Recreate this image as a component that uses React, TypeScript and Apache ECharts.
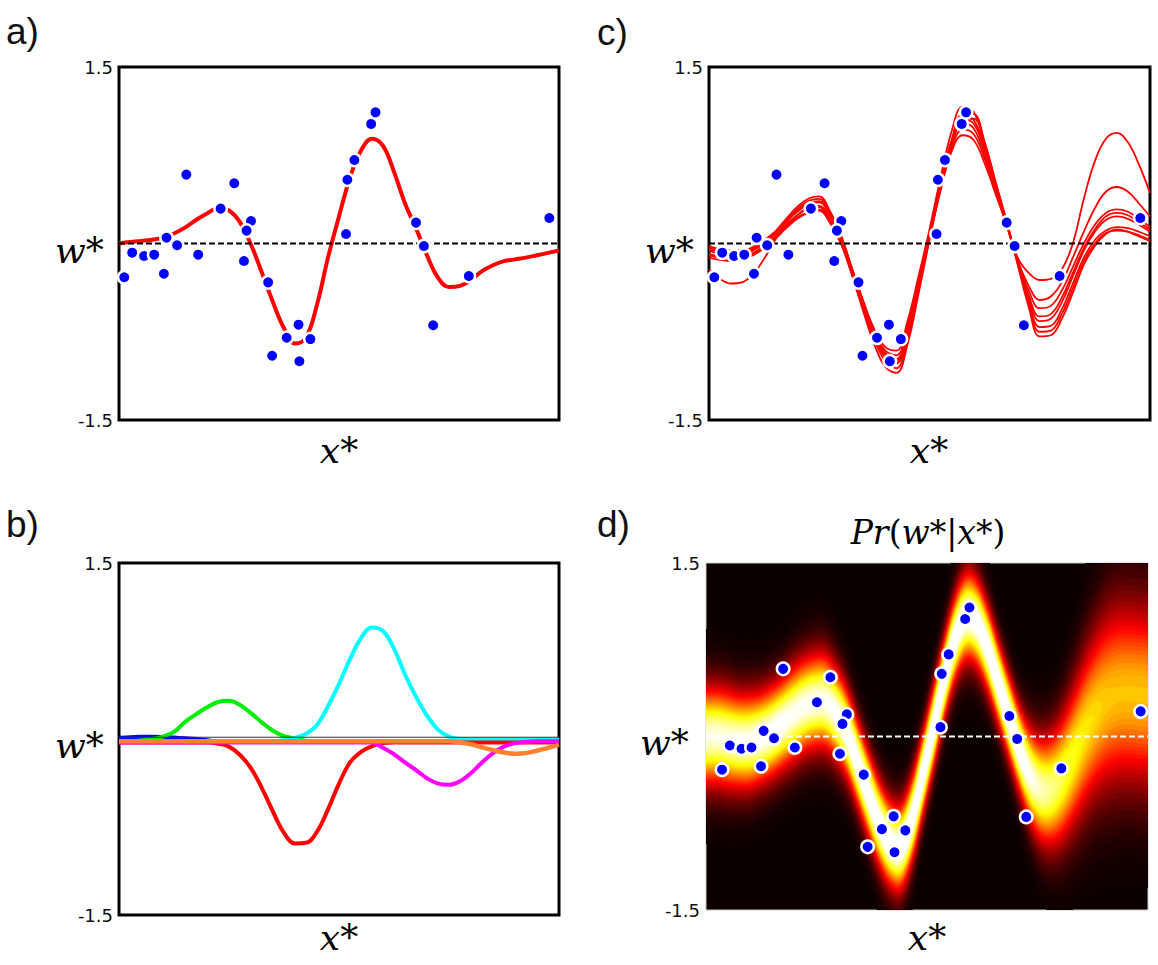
import React, { useEffect, useRef } from "react";
import * as echarts from "echarts";

// ---------- shared x grid (normalised x*) ----------
const xGrid = [0, 0.025, 0.05, 0.075, 0.1, 0.125, 0.15, 0.175, 0.2, 0.225, 0.25, 0.275, 0.3, 0.325, 0.35, 0.375, 0.4, 0.425, 0.45, 0.475, 0.5, 0.525, 0.55, 0.575, 0.6, 0.625, 0.65, 0.675, 0.7, 0.725, 0.75, 0.775, 0.8, 0.825, 0.85, 0.875, 0.9, 0.925, 0.95, 0.975, 1];

// ---------- observed data points ----------
const ptsX = [0.012, 0.030, 0.057, 0.080, 0.102, 0.108, 0.132, 0.153, 0.180, 0.231, 0.262, 0.300, 0.290, 0.284, 0.339, 0.348, 0.381, 0.408, 0.410, 0.435, 0.516, 0.519, 0.535, 0.573, 0.583, 0.675, 0.693, 0.714, 0.795, 0.978];
const ptsY = [-0.287, -0.078, -0.106, -0.095, -0.257, 0.049, -0.015, 0.585, -0.095, 0.296, 0.512, 0.191, 0.109, -0.149, -0.330, -0.954, -0.801, -0.690, -1.001, -0.812, 0.081, 0.542, 0.710, 1.016, 1.115, 0.177, -0.021, -0.695, -0.276, 0.217];

// ---------- panel a: fitted function ----------
const fitA = [0.0, 0.012, 0.022, 0.032, 0.05, 0.085, 0.135, 0.20, 0.255, 0.30, 0.28, 0.18, -0.01, -0.25, -0.50, -0.72, -0.85, -0.80, -0.52, -0.12, 0.23, 0.56, 0.79, 0.89, 0.83, 0.61, 0.34, 0.13, -0.10, -0.29, -0.37, -0.36, -0.31, -0.235, -0.185, -0.15, -0.135, -0.12, -0.10, -0.08, -0.06];

// ---------- panel b: weighted basis functions ----------
const basisBlue = [0.01, 0.015, 0.02, 0.02, 0.018, 0.012, 0.006, 0.0, -0.01, -0.02, -0.02, -0.02, -0.02, -0.02, -0.02, -0.02, -0.02, -0.02, -0.02, -0.02, -0.02, -0.02, -0.02, -0.02, -0.02, -0.02, -0.02, -0.02, -0.02, -0.02, -0.02, -0.02, -0.02, -0.02, -0.02, -0.02, -0.02, -0.02, -0.02, -0.02, -0.02];
const basisGreen = [-0.02, -0.02, -0.015, 0.0, 0.02, 0.06, 0.145, 0.21, 0.27, 0.315, 0.325, 0.29, 0.22, 0.14, 0.07, 0.025, 0.005, -0.015, -0.02, -0.02, -0.02, -0.02, -0.02, -0.02, -0.02, -0.02, -0.02, -0.02, -0.02, -0.02, -0.02, -0.02, -0.02, -0.02, -0.02, -0.02, -0.02, -0.02, -0.02, -0.02, -0.02];
const basisRed = [-0.03, -0.03, -0.03, -0.03, -0.03, -0.03, -0.03, -0.03, -0.03, -0.04, -0.065, -0.136, -0.25, -0.42, -0.62, -0.80, -0.89, -0.885, -0.79, -0.60, -0.38, -0.20, -0.11, -0.06, -0.035, -0.03, -0.03, -0.03, -0.03, -0.03, -0.03, -0.03, -0.03, -0.03, -0.03, -0.03, -0.03, -0.03, -0.03, -0.03, -0.03];
const basisCyan = [-0.02, -0.02, -0.02, -0.02, -0.02, -0.02, -0.02, -0.02, -0.02, -0.02, -0.02, -0.02, -0.02, -0.02, -0.02, -0.01, 0.01, 0.045, 0.12, 0.28, 0.47, 0.68, 0.86, 0.95, 0.92, 0.77, 0.55, 0.36, 0.2, 0.08, 0.02, 0.0, -0.005, -0.005, -0.005, -0.005, -0.005, -0.005, -0.005, -0.005, -0.005];
const basisMagenta = [-0.03, -0.03, -0.03, -0.03, -0.03, -0.03, -0.03, -0.03, -0.03, -0.03, -0.03, -0.03, -0.03, -0.03, -0.03, -0.03, -0.03, -0.03, -0.03, -0.03, -0.03, -0.03, -0.03, -0.03, -0.075, -0.13, -0.20, -0.265, -0.335, -0.38, -0.39, -0.36, -0.29, -0.20, -0.12, -0.065, -0.035, -0.025, -0.02, -0.02, -0.02];
const basisOrange = [-0.02, -0.02, -0.02, -0.02, -0.02, -0.02, -0.02, -0.02, -0.02, -0.02, -0.02, -0.02, -0.02, -0.02, -0.02, -0.02, -0.02, -0.02, -0.02, -0.02, -0.02, -0.02, -0.02, -0.02, -0.02, -0.02, -0.02, -0.02, -0.02, -0.02, -0.02, -0.03, -0.045, -0.07, -0.095, -0.115, -0.125, -0.12, -0.10, -0.075, -0.05];

// ---------- panel c: posterior samples ----------
const sampleC1 = [-0.05, -0.07, -0.08, -0.08, -0.05, 0.01, 0.09, 0.19, 0.28, 0.34, 0.36, 0.24, 0.04, -0.24, -0.53, -0.79, -0.95, -0.99, -0.74, -0.33, 0.08, 0.52, 0.88, 1.08, 1.05, 0.82, 0.50, 0.18, -0.12, -0.25, -0.31, -0.30, -0.22, 0.0, 0.38, 0.70, 0.89, 0.94, 0.86, 0.67, 0.43];
const sampleC2 = [-0.09, -0.11, -0.12, -0.12, -0.08, -0.02, 0.06, 0.16, 0.24, 0.30, 0.32, 0.20, 0.02, -0.25, -0.52, -0.76, -0.91, -0.95, -0.70, -0.31, 0.09, 0.50, 0.83, 1.02, 0.98, 0.75, 0.46, 0.17, -0.14, -0.36, -0.48, -0.45, -0.33, -0.12, 0.10, 0.30, 0.44, 0.48, 0.44, 0.34, 0.23];
const sampleC3 = [-0.02, -0.05, -0.06, -0.06, -0.03, 0.03, 0.10, 0.20, 0.29, 0.36, 0.38, 0.26, 0.06, -0.22, -0.50, -0.76, -0.93, -0.98, -0.76, -0.36, 0.06, 0.48, 0.86, 1.10, 1.10, 0.86, 0.52, 0.18, -0.15, -0.40, -0.55, -0.53, -0.40, -0.20, 0.0, 0.16, 0.26, 0.29, 0.27, 0.21, 0.14];
const sampleC4 = [-0.22, -0.30, -0.34, -0.33, -0.26, -0.13, 0.03, 0.15, 0.24, 0.30, 0.31, 0.19, 0.0, -0.27, -0.55, -0.80, -0.97, -1.02, -0.79, -0.38, 0.05, 0.47, 0.84, 1.06, 1.06, 0.83, 0.50, 0.17, -0.15, -0.44, -0.62, -0.60, -0.46, -0.25, -0.04, 0.12, 0.23, 0.26, 0.24, 0.18, 0.12];
const sampleC5 = [-0.10, -0.12, -0.13, -0.13, -0.09, -0.03, 0.05, 0.14, 0.22, 0.27, 0.29, 0.18, 0.01, -0.26, -0.55, -0.82, -1.00, -1.06, -0.82, -0.40, 0.04, 0.46, 0.80, 0.97, 0.93, 0.72, 0.44, 0.16, -0.16, -0.46, -0.66, -0.64, -0.50, -0.28, -0.06, 0.10, 0.20, 0.23, 0.21, 0.16, 0.10];
const sampleC6 = [-0.06, -0.09, -0.10, -0.10, -0.06, 0.0, 0.08, 0.18, 0.27, 0.33, 0.35, 0.23, 0.04, -0.23, -0.52, -0.78, -0.96, -1.01, -0.77, -0.36, 0.07, 0.49, 0.85, 1.05, 1.02, 0.79, 0.48, 0.17, -0.16, -0.49, -0.71, -0.70, -0.56, -0.34, -0.12, 0.03, 0.11, 0.14, 0.13, 0.10, 0.06];
const sampleC7 = [-0.12, -0.14, -0.15, -0.14, -0.10, -0.04, 0.04, 0.13, 0.21, 0.26, 0.28, 0.17, -0.01, -0.28, -0.58, -0.86, -1.05, -1.10, -0.86, -0.43, 0.03, 0.45, 0.78, 0.92, 0.88, 0.68, 0.42, 0.15, -0.17, -0.51, -0.75, -0.74, -0.60, -0.38, -0.15, 0.0, 0.09, 0.11, 0.10, 0.07, 0.03];
const sampleC8 = [-0.04, -0.06, -0.07, -0.07, -0.04, 0.02, 0.10, 0.21, 0.31, 0.38, 0.40, 0.27, 0.06, -0.22, -0.49, -0.73, -0.88, -0.91, -0.66, -0.28, 0.12, 0.56, 0.95, 1.16, 1.12, 0.86, 0.52, 0.19, -0.18, -0.54, -0.79, -0.78, -0.64, -0.42, -0.18, -0.02, 0.08, 0.12, 0.10, 0.06, 0.02];

// ---------- panel d: predictive mean / sd ----------
const postMean = [0.0, -0.02, -0.04, -0.04, -0.01, 0.04, 0.11, 0.19, 0.26, 0.30, 0.30, 0.20, 0.03, -0.23, -0.50, -0.75, -0.92, -0.95, -0.72, -0.33, 0.08, 0.50, 0.85, 1.03, 0.98, 0.76, 0.46, 0.16, -0.13, -0.35, -0.46, -0.45, -0.34, -0.16, 0.04, 0.20, 0.31, 0.36, 0.37, 0.36, 0.35];
const postSd = [0.28, 0.28, 0.27, 0.27, 0.26, 0.26, 0.26, 0.27, 0.27, 0.27, 0.27, 0.26, 0.25, 0.24, 0.24, 0.24, 0.24, 0.24, 0.24, 0.23, 0.23, 0.23, 0.24, 0.25, 0.25, 0.24, 0.23, 0.23, 0.24, 0.27, 0.30, 0.33, 0.37, 0.41, 0.45, 0.48, 0.51, 0.52, 0.52, 0.52, 0.52];

const yTickLabels = ["-1.5", "1.5"];

// ---------- helpers ----------
const pairs = (xs: number[], ys: number[]) => xs.map((x, i) => [x, ys[i]]);

function hot(t: number): string {
  const c = Math.max(0, Math.min(1, t));
  const r = Math.min(1, 0.0416 + (c * 0.9584) / 0.365);
  const g = Math.max(0, Math.min(1, (c - 0.365) / 0.381));
  const b = Math.max(0, Math.min(1, (c - 0.746) / 0.254));
  return `rgb(${Math.round(r * 255)},${Math.round(g * 255)},${Math.round(b * 255)})`;
}

const DENS_K = 0.43;
const DENS_P = 0.645;
const SUB = 5;
// contour levels of the colour image (finer at the dark end)
const lowLevels = [0.004, 0.008, 0.013, 0.019, 0.026, 0.034, 0.043, 0.053, 0.064];
const heatLevels = [...lowLevels, ...Array.from({ length: 38 }, (_, j) => 0.075 + j * 0.025)];

// Catmull-Rom resampling of the mean / sd profile for smooth density rendering
function cr(p0: number, p1: number, p2: number, p3: number, t: number) {
  return 0.5 * (2 * p1 + (-p0 + p2) * t + (2 * p0 - 5 * p1 + 4 * p2 - p3) * t * t + (-p0 + 3 * p1 - 3 * p2 + p3) * t * t * t);
}
function densifyProfile() {
  const xs = [-0.1, ...xGrid, 1.1];
  const ms = [postMean[0], ...postMean, postMean[postMean.length - 1]];
  const ss = [postSd[0], ...postSd, postSd[postSd.length - 1]];
  const n = xs.length;
  const dx: number[] = [], dm: number[] = [], ds: number[] = [];
  for (let i = 0; i < n - 1; i++) {
    const a = Math.max(0, i - 1), b = i, c = i + 1, d = Math.min(n - 1, i + 2);
    for (let k = 0; k < SUB; k++) {
      const t = k / SUB;
      dx.push(xs[b] + t * (xs[c] - xs[b]));
      dm.push(cr(ms[a], ms[b], ms[c], ms[d], t));
      ds.push(Math.max(0.05, cr(ss[a], ss[b], ss[c], ss[d], t)));
    }
  }
  dx.push(xs[n - 1]);
  dm.push(ms[n - 1]);
  ds.push(ss[n - 1]);
  return { dx, dm, ds };
}

const SERIF = "'DejaVu Serif', 'Liberation Serif', serif";
const SANS = "'Liberation Sans', Arial, sans-serif";

const gridA = { left: 119, top: 67, width: 440, height: 353 };
const gridC = { left: 709, top: 67, width: 441, height: 353 };
const gridB = { left: 119, top: 563, width: 440, height: 352 };
const gridD = { left: 706, top: 563, width: 442, height: 347 };

const xRangeStd = [0, 1];
const xRangeD = [-0.025, 0.995];

function buildOption() {
  const frame = { show: true, borderColor: "#000", borderWidth: 3, backgroundColor: "transparent" };
  const grids = [
    { ...gridA, ...frame },
    { ...gridC, ...frame },
    { ...gridB, ...frame },
    { ...gridD, show: true, borderColor: "#c8c8c8", borderWidth: 1, backgroundColor: hot(0.001) },
  ];
  const ranges = [xRangeStd, xRangeStd, xRangeStd, xRangeD];
  const xAxis = ranges.map((r, i) => ({ type: "value", gridIndex: i, min: r[0], max: r[1], show: false }));
  const yAxis = ranges.map((_, i) => ({
    type: "value",
    gridIndex: i,
    min: -1.5,
    max: 1.5,
    interval: 1.5,
    axisLine: { show: false },
    axisTick: { show: false },
    splitLine: { show: false },
    axisLabel: {
      show: true,
      margin: 6,
      fontSize: 18,
      color: "#111",
      fontFamily: "'DejaVu Sans', sans-serif",
      formatter: (v: number) => (v === -1.5 ? yTickLabels[0] : v === 1.5 ? yTickLabels[1] : ""),
    },
  }));

  const scatter = (gi: number) => ({
    type: "scatter",
    xAxisIndex: gi,
    yAxisIndex: gi,
    data: pairs(ptsX, ptsY),
    symbolSize: 12.5,
    itemStyle: { color: "#0000ff", borderColor: "#ffffff", borderWidth: 2.5, opacity: 1 },
    z: 5,
    silent: true,
  });
  const zeroLine = (gi: number, r: number[], color: string, width: number, type: any, y = 0) => ({
    type: "line",
    xAxisIndex: gi,
    yAxisIndex: gi,
    data: [[r[0], y], [r[1], y]],
    symbol: "none",
    lineStyle: { color, width, type },
    z: 4,
    silent: true,
  });
  const curve = (gi: number, ys: number[], color: string, width: number, z = 2) => ({
    type: "line",
    xAxisIndex: gi,
    yAxisIndex: gi,
    data: pairs(xGrid, ys),
    symbol: "none",
    smooth: 0.4,
    lineStyle: { color, width },
    z,
    silent: true,
  });

  const series: any[] = [];
  // panel a
  series.push(curve(0, fitA, "#ff0000", 4));
  series.push(zeroLine(0, xRangeStd, "#000", 2, [6, 3]));
  series.push(scatter(0));
  // panel c
  [sampleC1, sampleC2, sampleC3, sampleC4, sampleC5, sampleC6, sampleC7, sampleC8].forEach((s) =>
    series.push(curve(1, s, "#ff0000", 1.8))
  );
  series.push(zeroLine(1, xRangeStd, "#000", 2, [6, 3]));
  series.push(scatter(1));
  // panel b
  series.push(curve(2, basisBlue, "#0000ff", 4, 2));
  series.push(curve(2, basisGreen, "#00ee00", 4, 2));
  series.push(curve(2, basisCyan, "#00ffff", 4, 2));
  series.push(curve(2, basisRed, "#ff0000", 4, 2));
  series.push(curve(2, basisMagenta, "#ff00ff", 4, 2));
  series.push(curve(2, basisOrange, "#ff8030", 4.5, 3));
  series.push(zeroLine(2, xRangeStd, "#333", 1, "solid", 0.015));

  // panel d: density level bands built from the mean / sd profile
  const levelData = heatLevels.map((v) => [0, 0, v]);
  const { dx, dm, ds } = densifyProfile();
  series.push({
    type: "custom",
    xAxisIndex: 3,
    yAxisIndex: 3,
    data: levelData,
    encode: { x: 0, y: 1 },
    clip: true,
    silent: true,
    z: 1,
    renderItem: (params: any, api: any) => {
      const idx = params.dataIndex;
      const v = heatLevels[idx];
      const mid = idx < heatLevels.length - 1 ? (v + heatLevels[idx + 1]) / 2 : 1;
      const upper: number[][] = [];
      const lower: number[][] = [];
      let any = false;
      for (let i = 0; i < dx.length; i++) {
        const s = ds[i];
        const A = DENS_K * Math.pow(s, -DENS_P);
        let d = 0;
        if (A > v) {
          d = s * Math.sqrt(2 * Math.log(A / v));
          any = true;
        }
        upper.push(api.coord([dx[i], dm[i] + d]));
        lower.push(api.coord([dx[i], dm[i] - d]));
      }
      if (!any) return { type: "group", children: [] };
      return {
        type: "polygon",
        shape: { points: upper.concat(lower.reverse()) },
        style: { fill: hot(mid), stroke: null },
      };
    },
  });
  series.push(zeroLine(3, xRangeD, "#ffffff", 2, [6, 3]));
  series.push(scatter(3));

  // texts
  const panelLabel = (t: string, x: number, y: number) => ({
    type: "text",
    x,
    y,
    silent: true,
    style: { text: t, fontSize: 37, fontFamily: SANS, fill: "#111", align: "left", verticalAlign: "middle" },
  });
  const mathRich = {
    i: { fontFamily: SERIF, fontStyle: "italic", fontSize: 36, fill: "#000", color: "#000" },
    n: { fontFamily: SERIF, fontSize: 36, fill: "#000", color: "#000" },
  };
  const mathText = (t: string, x: number, y: number, align: string) => ({
    type: "text",
    x,
    y,
    silent: true,
    style: { text: t, rich: mathRich, align, verticalAlign: "middle", fill: "#000" },
  });
  const titleRich = {
    i: { fontFamily: SERIF, fontStyle: "italic", fontSize: 33, fill: "#000", color: "#000" },
    n: { fontFamily: SERIF, fontSize: 33, fill: "#000", color: "#000" },
  };

  const graphic = [
    panelLabel("a)", 6, 31),
    panelLabel("c)", 597, 32),
    panelLabel("b)", 6, 524),
    panelLabel("d)", 597, 524),
    mathText("{i|w}{n|*}", 55, 250, "left"),
    mathText("{i|w}{n|*}", 645, 250, "left"),
    mathText("{i|w}{n|*}", 55, 745, "left"),
    mathText("{i|w}{n|*}", 640, 742, "left"),
    mathText("{i|x}{n|*}", 339, 450, "center"),
    mathText("{i|x}{n|*}", 929, 450, "center"),
    mathText("{i|x}{n|*}", 339, 937, "center"),
    mathText("{i|x}{n|*}", 927, 937, "center"),
    {
      type: "text",
      x: 928,
      y: 532,
      silent: true,
      style: {
        text: "{i|Pr}{n|(}{i|w}{n|*}{n||}{i|x}{n|*}{n|)}",
        rich: titleRich,
        align: "center",
        verticalAlign: "middle",
        fill: "#000",
      },
    },
  ];

  return {
    animation: false,
    backgroundColor: "#ffffff",
    grid: grids,
    xAxis,
    yAxis,
    series,
    graphic,
  };
}

export default function App() {
  const ref = useRef<HTMLDivElement>(null);
  useEffect(() => {
    if (!ref.current) return;
    const chart = echarts.init(ref.current, undefined, { renderer: "svg" });
    chart.setOption(buildOption() as any);
    return () => chart.dispose();
  }, []);
  return (
    <div
      ref={ref}
      style={{ position: "fixed", left: 0, top: 0, width: 1158, height: 965, background: "#fff" }}
    />
  );
}
